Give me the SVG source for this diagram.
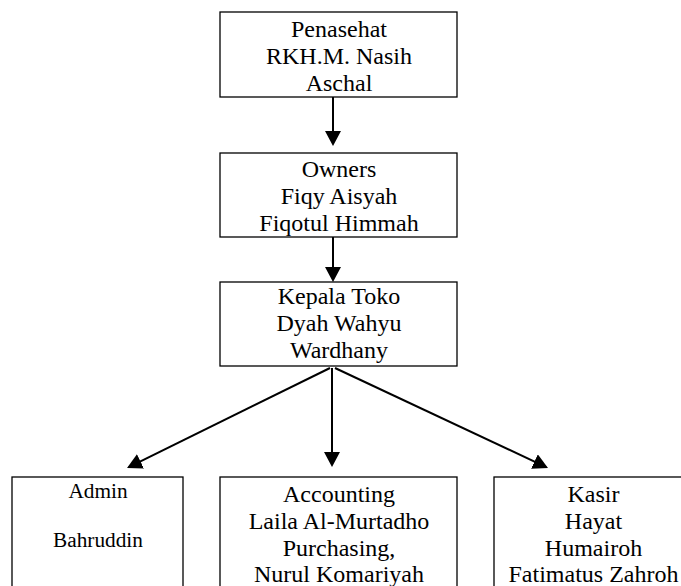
<svg xmlns="http://www.w3.org/2000/svg" width="681" height="586" viewBox="0 0 681 586">
  <style>
    .box { fill: #ffffff; stroke: #000000; stroke-width: 1.3; }
    text { font-family: "Liberation Serif", Tinos, "Times New Roman", Times, "DejaVu Serif", serif; fill: #000000; text-anchor: middle; }
    .t { font-size: 24px; }
    .ts { font-size: 21.3px; }
    .conn { stroke: #000000; stroke-width: 2; fill: none; marker-end: url(#arrow); }
  </style>
  <defs>
    <marker id="arrow" markerUnits="userSpaceOnUse" markerWidth="16" markerHeight="16" refX="13" refY="8" orient="auto">
      <path d="M0,0 L15,8 L0,16 Z" fill="#000000"/>
    </marker>
  </defs>
  <rect width="681" height="586" fill="#ffffff"/>

  <g id="connectors">
    <line class="conn" x1="333" y1="97" x2="333" y2="144"/>
    <line class="conn" x1="333" y1="237" x2="333" y2="280"/>
    <line class="conn" x1="330" y1="368" x2="128.8" y2="467.1"/>
    <line class="conn" x1="332" y1="368" x2="332" y2="465"/>
    <line class="conn" x1="335" y1="368" x2="546.2" y2="467.1"/>
  </g>

  <g id="penasehat" font-family="Liberation Serif, serif">
    <rect class="box" x="220" y="12" width="237" height="85"/>
    <text class="t" x="339" y="37">Penasehat</text>
    <text class="t" x="339" y="64">RKH.M. Nasih</text>
    <text class="t" x="339" y="91">Aschal</text>
  </g>

  <g id="owners">
    <rect class="box" x="220" y="153" width="237" height="84"/>
    <text class="t" x="339" y="177">Owners</text>
    <text class="t" x="339" y="204">Fiqy Aisyah</text>
    <text class="t" x="339" y="231">Fiqotul Himmah</text>
  </g>

  <g id="kepala-toko">
    <rect class="box" x="220" y="282" width="237" height="84"/>
    <text class="t" x="339" y="304">Kepala Toko</text>
    <text class="t" x="339" y="331">Dyah Wahyu</text>
    <text class="t" x="339" y="358">Wardhany</text>
  </g>

  <g id="admin">
    <rect class="box" x="12" y="477" width="171" height="130"/>
    <text class="ts" x="98" y="498">Admin</text>
    <text class="ts" x="98" y="547">Bahruddin</text>
  </g>

  <g id="accounting">
    <rect class="box" x="220" y="477" width="237" height="130"/>
    <text class="t" x="339" y="502">Accounting</text>
    <text class="t" x="339" y="529">Laila Al-Murtadho</text>
    <text class="t" x="339" y="556">Purchasing,</text>
    <text class="t" x="339" y="582">Nurul Komariyah</text>
  </g>

  <g id="kasir">
    <rect class="box" x="494" y="477" width="200" height="130"/>
    <text class="t" x="593.5" y="502">Kasir</text>
    <text class="t" x="593.5" y="529">Hayat</text>
    <text class="t" x="593.5" y="556">Humairoh</text>
    <text class="t" x="593.5" y="582">Fatimatus Zahroh</text>
  </g>
</svg>
